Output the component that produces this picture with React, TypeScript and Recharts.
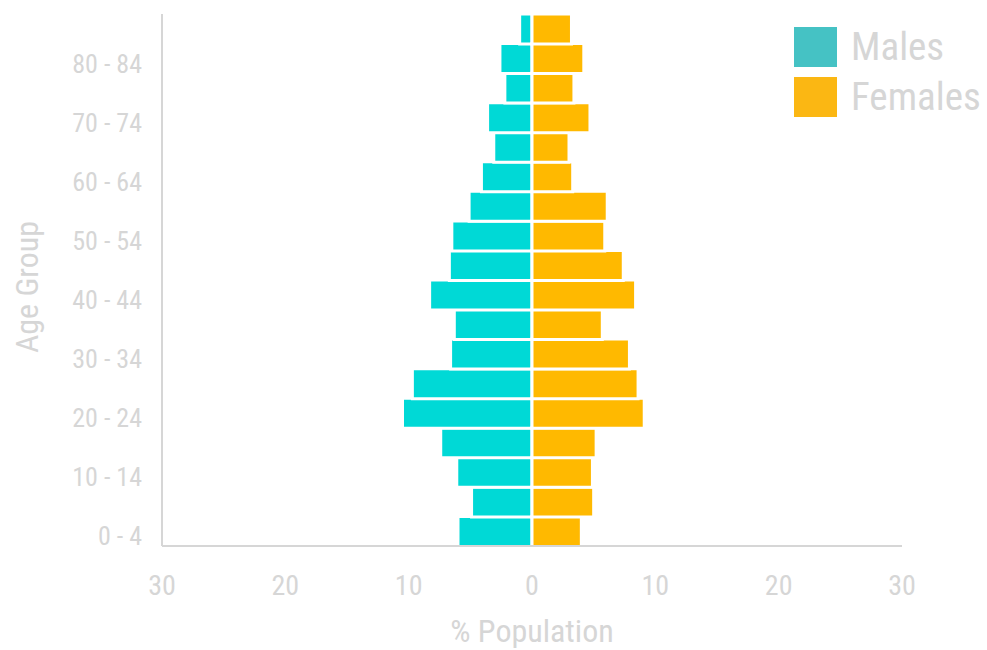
import React from 'react';
import { BarChart, Bar, XAxis, YAxis, Legend, Label } from 'recharts';

const ageGroups = ['0 - 4', '5 - 9', '10 - 14', '15 - 19', '20 - 24', '25 - 29', '30 - 34', '35 - 39', '40 - 44', '45 - 49', '50 - 54', '55 - 59', '60 - 64', '65 - 69', '70 - 74', '75 - 79', '80 - 84', '85+'];
const malesPct = [6.0, 4.9, 6.1, 7.4, 10.5, 9.7, 6.6, 6.3, 8.3, 6.7, 6.5, 5.1, 4.1, 3.1, 3.6, 2.2, 2.6, 1.0];
const femalesPct = [4.0, 5.0, 4.9, 5.2, 9.1, 8.6, 7.9, 5.7, 8.4, 7.4, 5.9, 6.1, 3.3, 3.0, 4.7, 3.4, 4.2, 3.2];
const xTicks = [-30, -20, -10, 0, 10, 20, 30];
const seriesNames = ['Males', 'Females'];
const barColors = ['#00D9D6', '#FFB900'];
const legendColors = ['#45C2C4', '#FBB713'];

const data = ageGroups.map((age, i) => ({ age, Males: -malesPct[i], Females: femalesPct[i] }));

const FONT = "'Liberation Sans Narrow', 'Roboto Condensed', 'Arial Narrow', sans-serif";
const TEXT = '#d6d6d6';
const AXIS = '#d6d6d6';

const LegendContent = () => (
  <div style={{ fontFamily: FONT }}>
    {seriesNames.map((n, i) => (
      <div key={n} style={{ display: 'flex', alignItems: 'center', height: 50 }}>
        <div style={{ width: 43, height: 40, background: legendColors[i], marginRight: 14 }} />
        <span style={{ fontSize: 39, color: TEXT, lineHeight: '40px' }}>{n}</span>
      </div>
    ))}
  </div>
);

const YLabel = (props: any) => {
  const vb = props.viewBox || {};
  const cx = vb.x + 27;
  const cy = vb.y + vb.height / 2 + 7;
  return (
    <text x={cx} y={cy} transform={`rotate(-90, ${cx}, ${cy})`} textAnchor="middle" dominantBaseline="central" fill={TEXT} fontSize={32} fontFamily={FONT}>
      Age Group
    </text>
  );
};

export default function App() {
  return (
    <div style={{ position: 'absolute', left: 0, top: 0, fontFamily: FONT }}>
      <BarChart
        width={987}
        height={650}
        data={data}
        layout="vertical"
        stackOffset="sign"
        barCategoryGap={0}
        margin={{ top: 14, right: 85, bottom: 0, left: 0 }}
      >
        <XAxis
          type="number"
          domain={[-30, 30]}
          ticks={xTicks}
          tickFormatter={(v: number) => String(Math.abs(v))}
          height={104}
          tickLine={false}
          tickSize={0}
          tickMargin={29}
          axisLine={{ stroke: AXIS, strokeWidth: 2 }}
          tick={{ fill: TEXT, fontSize: 28, fontFamily: FONT }}
        >
          <Label value="% Population" position="insideBottom" offset={8} fill={TEXT} fontSize={32} fontFamily={FONT} />
        </XAxis>
        <YAxis
          type="category"
          dataKey="age"
          reversed
          interval={1}
          width={162}
          tickLine={false}
          tickSize={0}
          tickMargin={20}
          axisLine={{ stroke: AXIS, strokeWidth: 2 }}
          tick={{ fill: TEXT, fontSize: 26, fontFamily: FONT, dy: 5 }}
        >
          <Label content={YLabel} />
        </YAxis>
        <Legend
          layout="vertical"
          align="center"
          verticalAlign="middle"
          wrapperStyle={{ top: 22, left: 794, width: 193 }}
          content={LegendContent}
        />
        <Bar dataKey="Males" stackId="a" fill={barColors[0]} stroke="#ffffff" strokeWidth={3} isAnimationActive={false} />
        <Bar dataKey="Females" stackId="a" fill={barColors[1]} stroke="#ffffff" strokeWidth={3} isAnimationActive={false} />
      </BarChart>
    </div>
  );
}
